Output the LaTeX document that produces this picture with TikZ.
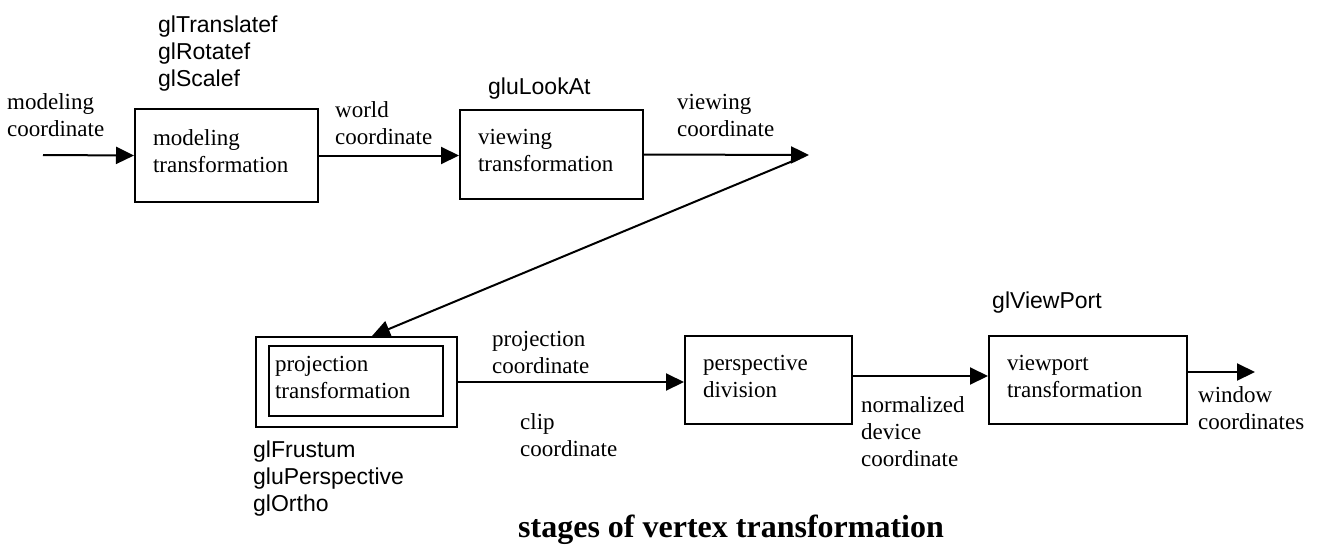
\documentclass[tikz,border=0pt]{standalone}
\usepackage{fontspec}
\setmainfont{Liberation Serif}
\setsansfont{Liberation Sans}
\usetikzlibrary{arrows.meta}

\begin{document}
\begin{tikzpicture}[x=1pt,y=-1pt,
	font=\fontsize{23}{27}\selectfont,
	box/.style={draw,line width=2pt,inner xsep=18pt,inner ysep=0pt,text depth=35pt,align=left},
	lbl/.style={anchor=west,inner sep=0pt,align=left},
	fn/.style={lbl,font=\fontsize{23}{27}\selectfont\sffamily},
	arr/.style={line width=2pt,-{Triangle[length=18pt,width=17pt]}}]
	\useasboundingbox (0,0) rectangle (1319,544);

	\node[box,minimum width=183pt,minimum height=93pt,text width=147pt] (mt) at (226.5,155.5) {modeling\\transformation};
	\node[box,minimum width=183pt,minimum height=89pt,text width=147pt] (vt) at (551.5,154.5) {viewing\\transformation};
	\node[draw,line width=2pt,minimum width=201pt,minimum height=90pt] (proj) at (356.5,382) {};
	\node[box,inner xsep=6pt,minimum width=174pt,minimum height=70pt,text width=162pt] (projin) at (356,381) {projection\\transformation};
	\node[box,minimum width=167pt,minimum height=88pt,text width=131pt] (pd) at (768.5,380) {perspective\\division};
	\node[box,minimum width=198pt,minimum height=88pt,text width=162pt] (vp) at (1088,380) {viewport\\transformation};

	\coordinate (in) at (43,155);
	\coordinate (vc) at (809,155);
	\coordinate (out) at (1255,372);

	\draw[arr] (in) -- (mt.west);
	\draw[arr] (mt.east) -- (mt.east -| vt.west);
	\draw[arr] (vt.west -| vt.east) -- (vc);
	\draw[arr] ([xshift=-9pt,yshift=-3pt]vc) -- ([xshift=15.5pt]proj.north);
	\draw[arr] (proj.east) -- (proj.east -| pd.west);
	\draw[arr] ([yshift=4pt]pd.east) -- ([yshift=4pt]pd.east -| vp.west);
	\draw[arr] ([yshift=8pt]vp.east) -- (out);

	\node[lbl] (mc) at (7,115.5) {modeling\\coordinate};
	\node[lbl] (wc) at (335,123.5) {world\\coordinate};
	\node[lbl] (vwc) at (677,115) {viewing\\coordinate};
	\node[lbl] (pc) at (492,352) {projection\\coordinate};
	\node[lbl] (cc) at (520,435) {clip\\coordinate};
	\node[lbl] (ndc) at (861,432) {normalized\\device\\coordinate};
	\node[lbl] (wnd) at (1198,408) {window\\coordinates};

	\node[fn] (mtfn) at (158,54) {glTranslatef\\glRotatef\\glScalef};
	\node[fn] (vtfn) at (488,89) {gluLookAt};
	\node[fn] (pjfn) at (253,479) {glFrustum\\gluPerspective\\glOrtho};
	\node[fn] (vpfn) at (992,303) {glViewPort};

	\node[lbl,anchor=base west,font=\fontsize{32}{36}\selectfont\bfseries] (title) at (518,537) {stages of vertex transformation};
\end{tikzpicture}
\end{document}
